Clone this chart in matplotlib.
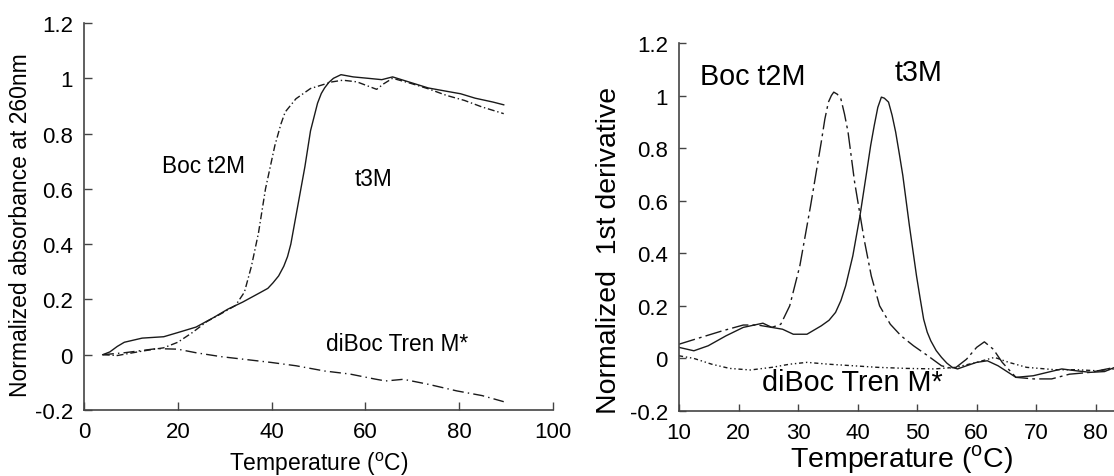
import matplotlib
matplotlib.use("Agg")
import matplotlib.pyplot as plt

plt.rcParams['font.family'] = ['Liberation Sans', 'DejaVu Sans']
plt.rcParams['mathtext.fontset'] = 'custom'
plt.rcParams['mathtext.rm'] = 'Liberation Sans'

# Absorbance melting curves (left panel)
abs_t3m_T = [4.0, 5.5, 7.1, 8.6, 12.4, 17.0, 20.0, 23.9, 27.7, 30.7, 33.8, 37.6, 39.2, 40.3,
             41.5, 42.6, 43.4, 44.1, 45.6, 47.1, 48.3, 49.8, 50.6, 51.3, 52.2, 53.2, 54.8,
             57.4, 60.5, 63.5, 65.8, 69.6, 73.4, 77.3, 80.3, 83.4, 87.2, 89.5]
abs_t3m = [0.0, 0.01, 0.03, 0.045, 0.06, 0.065, 0.08, 0.10, 0.135, 0.165, 0.19, 0.225, 0.24,
           0.26, 0.285, 0.32, 0.355, 0.40, 0.54, 0.68, 0.81, 0.91, 0.945, 0.965, 0.985, 1.0,
           1.013, 1.005, 1.0, 0.995, 1.005, 0.985, 0.965, 0.953, 0.944, 0.928, 0.914, 0.904]

abs_t2m_T = [4.0, 7.1, 12.4, 17.0, 20.0, 23.1, 26.2, 29.2, 32.3, 34.2, 35.7, 37.2, 38.7,
             40.7, 42.0, 42.9, 45.2, 48.3, 52.9, 55.2, 58.2, 62.4, 63.9, 65.8, 69.6, 73.4,
             77.3, 81.1, 84.9, 89.5]
abs_t2m = [0.0, -0.003, 0.013, 0.025, 0.045, 0.08, 0.12, 0.148, 0.178, 0.226, 0.32, 0.44, 0.6,
           0.757, 0.835, 0.878, 0.926, 0.963, 0.987, 0.993, 0.987, 0.96, 0.98, 1.0, 0.982,
           0.962, 0.938, 0.92, 0.896, 0.872]

abs_tren_T = [4.0, 8.6, 15.5, 20.0, 23.9, 29.2, 33.8, 39.9, 45.2, 51.3, 56.7, 62.0, 64.3,
              68.1, 73.4, 79.5, 84.9, 89.5]
abs_tren = [0.0, 0.007, 0.022, 0.02, 0.007, -0.007, -0.016, -0.028, -0.04, -0.059, -0.07,
            -0.088, -0.095, -0.089, -0.107, -0.131, -0.148, -0.17]

# First derivative curves (right panel)
der_t3m_T = [10.0, 12.5, 14.9, 17.9, 20.8, 24.1, 25.6, 27.4, 29.2, 31.5, 33.9, 35.2, 36.3,
             37.2, 38.0, 39.2, 40.4, 41.6, 42.2, 42.8, 43.4, 44.0, 44.5, 45.2, 45.8, 46.4,
             47.0, 47.6, 48.7, 49.9, 50.5, 51.1, 51.7, 52.3, 53.2, 54.1, 55.0, 55.9, 56.8,
             58.3, 60.0, 61.8, 63.6, 66.6, 69.5, 71.9, 74.3, 76.7, 79.1, 81.5, 83.2, 85.0]
der_t3m = [0.042, 0.029, 0.048, 0.086, 0.118, 0.134, 0.118, 0.111, 0.092, 0.092, 0.124, 0.145,
           0.175, 0.22, 0.276, 0.39, 0.542, 0.72, 0.81, 0.886, 0.955, 0.994, 0.99, 0.975,
           0.925, 0.861, 0.78, 0.696, 0.506, 0.314, 0.23, 0.149, 0.10, 0.067, 0.03, 0.004,
           -0.018, -0.034, -0.04, -0.028, -0.015, -0.009, -0.028, -0.072, -0.066, -0.053,
           -0.04, -0.047, -0.053, -0.05, -0.034, -0.03]

der_t2m_T = [10.0, 13.7, 17.3, 20.8, 23.2, 25.6, 27.1, 28.6, 30.3, 32.1, 33.9, 34.5, 35.1,
             35.6, 36.0, 36.6, 37.2, 37.8, 38.4, 39.5, 41.1, 42.3, 43.7, 45.5, 47.3, 49.4,
             51.8, 54.1, 56.2, 58.3, 60.0, 61.3, 62.8, 64.3, 66.6, 69.6, 72.6, 75.6, 79.1,
             83.2, 85.0]
der_t2m = [0.054, 0.08, 0.105, 0.127, 0.127, 0.118, 0.13, 0.2, 0.352, 0.58, 0.823, 0.91, 0.975,
           1.0, 1.013, 1.005, 0.987, 0.93, 0.861, 0.671, 0.453, 0.314, 0.2, 0.13, 0.086,
           0.048, 0.01, -0.028, -0.04, -0.003, 0.042, 0.063, 0.035, -0.015, -0.072, -0.078,
           -0.078, -0.06, -0.053, -0.034, -0.03]

der_tren_T = [10.0, 12.5, 15.5, 18.5, 22.0, 25.6, 28.6, 31.5, 35.1, 39.3, 43.4, 48.2, 52.9,
              56.5, 60.0, 63.0, 65.4, 68.4, 73.2, 76.7, 80.3, 83.2, 85.0]
der_tren = [0.01, 0.0, -0.022, -0.038, -0.044, -0.034, -0.022, -0.015, -0.022, -0.028, -0.034,
            -0.038, -0.04, -0.034, -0.015, 0.004, -0.015, -0.034, -0.043, -0.043, -0.047,
            -0.04, -0.04]

LINE = '#1a1a1a'
SPINE = '#444444'


def style_axes(ax, ticklen):
    for side in ('top', 'right'):
        ax.spines[side].set_visible(False)
    for side in ('left', 'bottom'):
        ax.spines[side].set_color(SPINE)
        ax.spines[side].set_linewidth(1.2)
    ax.tick_params(direction='in', length=ticklen, width=1.0, color=SPINE,
                   labelsize=16, pad=8)


fig = plt.figure(figsize=(11.14, 4.77), dpi=100)

# Left panel: normalized absorbance
ax1 = fig.add_axes([0.0754, 0.1384, 0.421, 0.8113])
ax1.plot(abs_t3m_T, abs_t3m, color=LINE, lw=1.0, ls='-')
ax1.plot(abs_t2m_T, abs_t2m, color=LINE, lw=1.0, ls=(0, (5, 2, 1, 2)))
ax1.plot(abs_tren_T, abs_tren, color=LINE, lw=1.0, ls=(0, (8, 3, 1, 3)))
ax1.set_xlim(0, 100)
ax1.set_ylim(-0.2, 1.2)
ax1.set_xticks([0, 20, 40, 60, 80, 100])
ax1.set_yticks([-0.2, 0, 0.2, 0.4, 0.6, 0.8, 1, 1.2])
ax1.set_yticklabels(['-0.2', '0', '0.2', '0.4', '0.6', '0.8', '1', '1.2'])
style_axes(ax1, 6)
ax1.set_xlabel(r'Temperature ($^\mathrm{o}$C)', fontsize=16.5)
ax1.set_ylabel('Normalized absorbance at 260nm', fontsize=16.5)
ax1.xaxis.set_label_coords(0.5, -0.103)
ax1.yaxis.set_label_coords(-0.111, 0.48)
ax1.text(16.6, 0.686, 'Boc t2M', fontsize=16.3, va='center', ha='left')
ax1.text(57.8, 0.636, 't3M', fontsize=16.3, va='center', ha='left')
ax1.text(51.7, 0.039, 'diBoc Tren M*', fontsize=16.3, va='center', ha='left')

# Right panel: normalized first derivative
ax2 = fig.add_axes([0.6095, 0.1363, 0.4275, 0.7715])
ax2.plot(der_t3m_T, der_t3m, color=LINE, lw=1.0, ls='-')
ax2.plot(der_t2m_T, der_t2m, color=LINE, lw=1.0, ls=(0, (12, 3, 2, 3)))
ax2.plot(der_tren_T, der_tren, color=LINE, lw=1.0, ls=(0, (3, 2, 1, 2, 1, 2)))
ax2.set_xlim(10, 90)
ax2.set_ylim(-0.2, 1.2)
ax2.set_xticks([10, 20, 30, 40, 50, 60, 70, 80])
ax2.set_yticks([-0.2, 0, 0.2, 0.4, 0.6, 0.8, 1, 1.2])
ax2.set_yticklabels(['-0.2', '0', '0.2', '0.4', '0.6', '0.8', '1', '1.2'])
style_axes(ax2, 5)
ax2.set_xlabel(r'Temperature ($^\mathrm{o}$C)', fontsize=20.5)
ax2.set_ylabel('Normalized  1st derivative', fontsize=20.5)
ax2.xaxis.set_label_coords(0.468, -0.085)
ax2.yaxis.set_label_coords(-0.12, 0.44)
ax2.text(13.5, 1.076, 'Boc t2M', fontsize=20.7, va='center', ha='left')
ax2.text(46.3, 1.09, 't3M', fontsize=20.7, va='center', ha='left')
ax2.text(23.9, -0.09, 'diBoc Tren M*', fontsize=20.7, va='center', ha='left')

fig.savefig('out.png', dpi=100)
